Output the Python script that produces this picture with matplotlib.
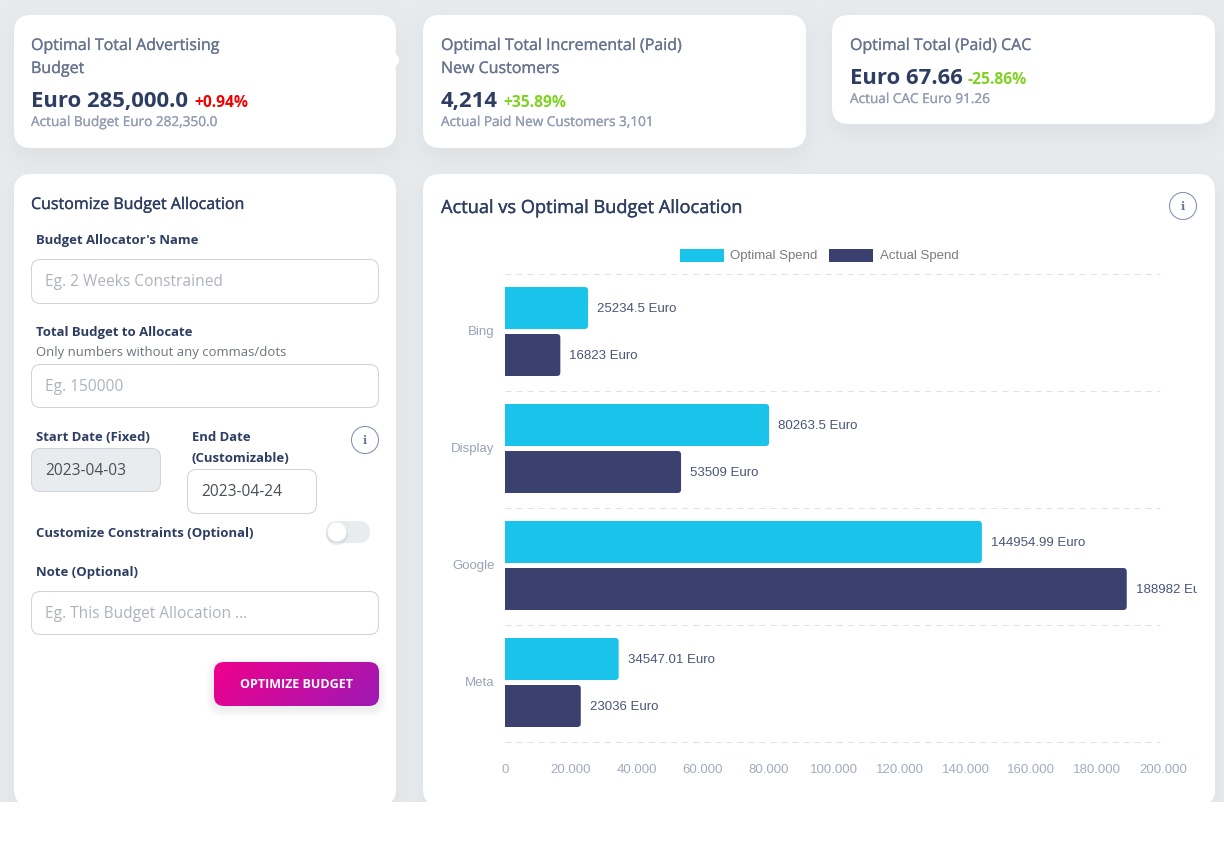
import numpy as np
import matplotlib
matplotlib.use("Agg")
import matplotlib.pyplot as plt
import matplotlib.patheffects as pe
from matplotlib.patches import FancyBboxPatch, Circle, Rectangle

# Chart data
channels = ["Bing", "Display", "Google", "Meta"]
optimal_spend = [25234.5, 80263.5, 144954.99, 34547.01]
actual_spend = [16823, 53509, 188982, 23036]
optimal_labels = ["25234.5 Euro", "80263.5 Euro", "144954.99 Euro", "34547.01 Euro"]
actual_labels = ["16823 Euro", "53509 Euro", "188982 Euro", "23036 Euro"]
x_ticks = [0, 20000, 40000, 60000, 80000, 100000, 120000, 140000, 160000, 180000, 200000]
x_tick_labels = ["0", "20.000", "40.000", "60.000", "80.000", "100.000", "120.000",
                 "140.000", "160.000", "180.000", "200.000"]

W, H = 1224, 852
CYAN = "#19c3ea"
NAVY = "#3b416e"
DARK = "#2e3e63"
GREY = "#67748e"
LIGHT = "#939db4"
HOLDER = "#adb3bd"
UI = "Open Sans"
CHART = "Liberation Sans"
cards = [(14, 15, 396, 148), (423, 15, 806, 148), (832, 15, 1215, 124),
         (14, 174, 396, 806), (423, 174, 1215, 806)]


def px(size):
    return size * 72 / 100


fig = plt.figure(figsize=(W / 100, H / 100), dpi=100)
bg = fig.add_axes([0, 0, 1, 1])
bg.axis("off")

# page background with one soft shadow under all the cards
mask = np.zeros((H, W))
for x0, y0, x1, y1 in cards:
    mask[y0 + 10:y1 + 10, x0:x1] = 1
kernel = np.ones(25) / 25
for _ in range(2):
    mask = np.apply_along_axis(np.convolve, 0, mask, kernel, mode="same")
    mask = np.apply_along_axis(np.convolve, 1, mask, kernel, mode="same")
page = np.array([0.910, 0.922, 0.933]) - mask[..., None] * 0.042
bg.imshow(np.clip(page, 0, 1), extent=(0, W, H, 0), aspect="auto", zorder=0, interpolation="nearest")
bg.set_xlim(0, W)
bg.set_ylim(H, 0)


def box(x0, y0, x1, y1, r, fc="white", ec="none", lw=1, z=2, alpha=None):
    p = FancyBboxPatch((x0 + r, y0 + r), x1 - x0 - 2 * r, y1 - y0 - 2 * r,
                       boxstyle=f"round,pad={r},rounding_size={r}",
                       fc=fc, ec=ec, lw=lw, zorder=z, alpha=alpha)
    bg.add_patch(p)
    return p


def txt(x, y, s, size, color=DARK, weight="normal", family=UI, ha="left", va="baseline", z=5, stroke=0):
    t = bg.text(x, y, s, fontsize=px(size), color=color, fontweight=weight,
                family=family, ha=ha, va=va, zorder=z)
    if stroke:
        # no medium weight installed, thicken the regular one a little
        t.set_path_effects([pe.withStroke(linewidth=stroke, foreground=color)])
    return t


def field(x0, y0, x1, y1, fc="white"):
    box(x0 + 0.5, y0 + 0.5, x1 - 0.5, y1 - 0.5, 9, fc=fc, ec="#ced4da", lw=0.75, z=3)


def info(cx, cy):
    bg.add_patch(Circle((cx, cy), 13.5, fc="white", ec="#7f8fb0", lw=0.75, zorder=4))
    txt(cx, cy + 0.5, "i", 11.5, color="#6c7a96", weight="bold", family="DejaVu Serif", ha="center", va="center")


# Cards
for x0, y0, x1, y1 in cards:
    box(x0, y0, x1, y1, 17)
bg.add_patch(Circle((392, 60), 7, fc="white", ec="none", zorder=2))

# KPI 1
txt(31, 50, "Optimal Total Advertising", 16, GREY, stroke=0.2)
txt(31, 73, "Budget", 16, GREY, stroke=0.2)
txt(31, 107, "Euro 285,000.0", 22.1, DARK, "bold")
txt(194, 107, "+0.94%", 15.6, "#f00000", "bold")
txt(31, 126, "Actual Budget Euro 282,350.0", 13.6, LIGHT, stroke=0.2)

# KPI 2
txt(441, 50, "Optimal Total Incremental (Paid)", 16, GREY, stroke=0.2)
txt(441, 73, "New Customers", 16, GREY, stroke=0.2)
txt(441, 107, "4,214", 22.1, DARK, "bold")
txt(503, 107, "+35.89%", 15.6, "#7ed321", "bold")
txt(441, 126, "Actual Paid New Customers 3,101", 13.6, LIGHT, stroke=0.2)

# KPI 3
txt(850, 50, "Optimal Total (Paid) CAC", 16, GREY, stroke=0.2)
txt(850, 84, "Euro 67.66", 22.1, DARK, "bold")
txt(968, 84, "-25.86%", 15.6, "#7ed321", "bold")
txt(850, 103, "Actual CAC Euro 91.26", 13.6, LIGHT, stroke=0.2)

# Left form
txt(31, 209, "Customize Budget Allocation", 16, DARK, stroke=0.25)
txt(36, 244, "Budget Allocator's Name", 13.15, DARK, "bold")
field(31, 259, 379, 304)
txt(45, 286, "Eg. 2 Weeks Constrained", 15.5, HOLDER)
txt(36, 336, "Total Budget to Allocate", 13.15, DARK, "bold")
txt(36, 356, "Only numbers without any commas/dots", 13.15, "#6c757d")
field(31, 364, 379, 408)
txt(45, 391, "Eg. 150000", 15.5, HOLDER)
txt(36, 441, "Start Date (Fixed)", 13.15, DARK, "bold")
txt(191.5, 441, "End Date", 13.15, DARK, "bold")
txt(191.5, 462, "(Customizable)", 13.15, DARK, "bold")
field(31, 448, 161, 492, fc="#e9ecef")
txt(45, 475, "2023-04-03", 15.5, "#495057")
field(187, 469, 317, 514)
txt(201, 496, "2023-04-24", 15.5, "#495057")
info(365, 440)
txt(36, 537, "Customize Constraints (Optional)", 13.15, DARK, "bold")
box(326, 521, 370, 543, 11, fc="#e9ecef", z=3)
bg.add_patch(Circle((337, 534), 11, fc="#aab0b8", ec="none", alpha=0.25, zorder=3))
bg.add_patch(Circle((337, 532), 9.5, fc="white", ec="none", zorder=4))
txt(36, 576, "Note (Optional)", 13.15, DARK, "bold")
field(31, 591, 379, 635)
txt(45, 618, "Eg. This Budget Allocation ...", 15.5, HOLDER)

# Gradient button
for s in range(1, 9):
    box(214 - s, 662 - s + 3, 379 + s, 706 + s + 3, 10 + s, fc="#666a75", z=2, alpha=0.012)
clip = box(214, 662, 379, 706, 10, fc="none", z=3)
gx, gy = np.meshgrid(np.linspace(0, 1, 165), np.linspace(0, 1, 44))
frac = np.clip(0.8 * gx + 0.2 * gy, 0, 1)[..., None]
grad = (1 - frac) * np.array([0.94, 0.0, 0.55]) + frac * np.array([0.62, 0.10, 0.71])
im = bg.imshow(grad, extent=(214, 379, 706, 662), aspect="auto", zorder=3)
im.set_clip_path(clip)
bg.set_xlim(0, W)
bg.set_ylim(H, 0)
txt(296.5, 684, "OPTIMIZE BUDGET", 12.5, "white", "bold", ha="center", va="center")

# Chart card header and legend
txt(441, 213, "Actual vs Optimal Budget Allocation", 18.2, DARK, stroke=0.25)
info(1183, 206)
bg.add_patch(Rectangle((680, 249), 44, 13, fc=CYAN, ec="none", zorder=4))
txt(730, 256, "Optimal Spend", 13.25, "#7b7b7b", family=CHART, va="center")
bg.add_patch(Rectangle((829, 249), 44, 13, fc=NAVY, ec="none", zorder=4))
txt(880, 256, "Actual Spend", 13.25, "#7b7b7b", family=CHART, va="center")

# White strip under the page
bg.add_patch(Rectangle((0, 802), W, 50, fc="white", ec="none", zorder=6))

# Bar chart
left, right, top, bottom = 505, 1163, 274, 742
ax = fig.add_axes([left / W, 1 - bottom / H, (right - left) / W, (bottom - top) / H], zorder=2)
ax.patch.set_alpha(0)
ax.set_xlim(0, 200000)
ax.set_ylim(len(channels), 0)
for side in ax.spines.values():
    side.set_visible(False)

xpp = 200000 / (right - left)
ypp = len(channels) / (bottom - top)
band = np.arange(len(channels))
bar_h = 42 * ypp
opt_top = band + 13 * ypp
act_top = band + 60 * ypp


def rounded_bars(tops, values, color):
    for y0, v in zip(tops, values):
        # start left of zero so the axis side stays square after clipping
        p = FancyBboxPatch((-3000, y0), v + 3000, bar_h,
                           boxstyle=f"round,pad=0,rounding_size={3.5 * xpp}",
                           mutation_aspect=ypp / xpp, fc=color, ec="none", zorder=3)
        ax.add_patch(p)


rounded_bars(opt_top, optimal_spend, CYAN)
rounded_bars(act_top, actual_spend, NAVY)

ax.hlines(np.arange(len(channels) + 1) - 0.5 * ypp, 0, 199200, colors="#e0e2e6", linestyles=(0, (5.8, 4.8)),
          lw=0.75, zorder=1, clip_on=False)

ax.set_yticks(band + 0.5 - 2 * ypp)
ax.set_yticklabels(channels, fontsize=px(13.25), color="#9aa3b8", family=CHART)
ax.set_xticks(x_ticks)
ax.set_xticklabels(x_tick_labels, fontsize=px(13.25), color="#a3abc0", family=CHART)
ax.tick_params(axis="both", length=0)
ax.tick_params(axis="y", pad=7.5)
ax.tick_params(axis="x", pad=16)

limit = Rectangle((0, 0), 1197, H, transform=bg.transData)
for tops, vals, labs in [(opt_top, optimal_spend, optimal_labels), (act_top, actual_spend, actual_labels)]:
    for y0, v, lab in zip(tops, vals, labs):
        t = ax.text(v + 9 * xpp, y0 + bar_h / 2 + 0.8 * ypp, lab, fontsize=px(13.25), color="#4a5578",
                    family=CHART, va="center", zorder=4)
        t.set_clip_on(True)
        t.set_clip_path(limit)

fig.savefig("out.png", dpi=100)
